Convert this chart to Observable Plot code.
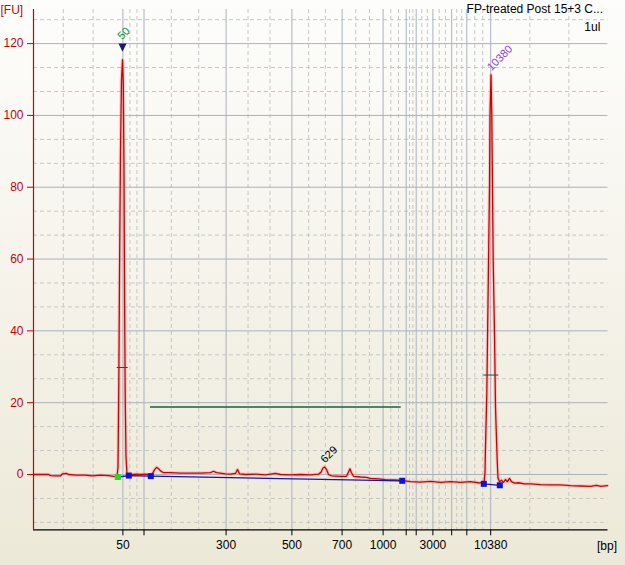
<!DOCTYPE html>
<html>
<head>
<meta charset="utf-8">
<script src="https://cdn.jsdelivr.net/npm/d3@7"></script>
<script src="https://cdn.jsdelivr.net/npm/@observablehq/plot@0.6"></script>
<style>
  html, body { margin: 0; padding: 0; }
  body { width: 625px; height: 565px; background: linear-gradient(to bottom, #fdfdfc 0%, #f6f4ec 45%, #ece9d8 100%); overflow: hidden; }
  #chart svg { display: block; }
</style>
</head>
<body>
<div id="chart"></div>
<script>
// ---- data (x = migration time, s; y = fluorescence, FU) ----
const ladderBp   = [50, 100, 300, 500, 700, 1000, 1500, 2000, 3000, 5000, 7000, 10380];
const ladderTime = [37.88, 42.10, 58.52, 71.68, 81.72, 89.92, 94.54, 96.54, 99.88, 103.64, 106.66, 111.44];
const tickLabels = ["50", "", "300", "500", "700", "1000", "", "", "3000", "", "", "10380"];
const yTicks = [0, 20, 40, 60, 80, 100, 120];
const xDomain = [20, 134.9];
const yDomain = [-15.4, 129.5];

const trace = [
  [20.0, 0.0], [21.4, 0.0], [23.0, 0.0], [23.4, -0.3], [24.4, -0.4], [25.4, -0.4], [25.8, 0.2], [26.6, 0.3],
  [27.0, 0.0], [28.4, -0.2], [30.4, -0.2], [31.8, -0.4], [33.4, -0.2], [35.0, -0.3], [36.0, -0.5], [36.7, -0.6],
  [36.9, 2], [37.06, 25], [37.2, 55], [37.4, 90], [37.6, 110], [37.8, 115.5], [37.96, 109], [38.1, 85],
  [38.22, 48], [38.34, 22], [38.5, 5], [38.7, 0],
  [39.0, -0.1], [40.4, 0.1], [41.4, 0.0], [42.4, 0.1], [43.4, -0.1], [43.8, 0.3], [44.2, 1.3], [44.6, 2.0],
  [45.0, 1.6], [45.4, 1.0], [46.0, 0.5], [47.4, 0.5], [49.4, 0.4], [51.4, 0.4], [53.4, 0.4], [55.4, 0.5],
  [56.0, 0.9], [56.6, 0.5], [58.4, 0.2], [59.4, 0.1], [60.4, 0.3], [60.8, 1.4], [61.2, 0.2], [62.4, 0.0],
  [64.4, 0.1], [66.4, -0.1], [68.4, 0.3], [69.4, 0.0], [71.4, -0.1], [73.4, 0.0], [75.4, -0.1], [77.0, 0.1],
  [77.5, 0.6], [77.9, 1.8], [78.2, 2.1], [78.6, 1.4], [79.0, 0.0], [79.6, -0.4], [81.4, -0.5], [82.6, -0.5],
  [83.0, 0.7], [83.3, 1.6], [83.6, 0.5], [84.0, -0.5], [85.4, -0.7], [86.6, -0.8], [87.4, -1.1], [89.0, -1.2],
  [90.4, -1.4], [92.4, -1.5], [93.8, -1.7], [95.4, -2.0], [97.4, -2.1], [99.4, -1.9], [101.4, -2.2], [103.4, -2.0],
  [105.4, -2.2], [107.4, -2.0], [109.0, -2.3], [110.1, -2.4],
  [110.3, 0.5], [110.4, 7.6], [110.66, 22.5], [110.86, 43.8], [111.2, 80], [111.3, 100], [111.5, 111.3],
  [111.66, 100], [111.94, 59.6], [112.2, 39.2], [112.4, 18.7], [112.74, 3.9], [112.9, -1.0],
  [113.2, -2.0], [113.6, -1.6], [114.0, -2.2], [114.4, -1.4], [114.8, -2.0], [115.2, -1.1], [115.6, -2.0],
  [116.2, -2.4], [117.0, -2.3], [118.2, -2.6], [119.4, -2.6], [121.4, -2.8], [123.4, -2.9], [125.4, -2.9],
  [127.4, -3.1], [129.4, -3.2], [131.4, -3.3], [132.6, -3.0], [133.4, -3.3], [134.8, -3.1]
];

const baselineA = [[36.86, -0.7], [39.06, -0.3], [43.46, -0.45], [93.74, -1.75]];
const baselineB = [[110.06, -2.6], [113.26, -3.0]];
const startMarker = [[36.86, -0.7]];
const baselineMarkers = [[39.06, -0.3], [43.46, -0.45], [93.74, -1.75], [110.06, -2.6], [113.26, -3.0]];

const regionStart = [43.4], regionEnd = [93.54], regionLevel = [18.8];
const halfTicks = [[36.74, 38.94, 29.8], [110.06, 113.06, 27.7]];

const markerPeak = [[37.8, 115.5]];
const peakLabels = ["629", "10380"];
const peakTime = [78.2, 111.5];
const peakFU = [2.1, 111.3];
const peakColors = ["#000000", "#8a3fd6"];

const title = "FP-treated Post 15+3 C...";
const subtitle = "1ul";

// ---- grid positions derived from scale ----
const edges = [xDomain[0], ...ladderTime, xDomain[1]];
const minorX = [];
for (let i = 0; i < edges.length - 1; i++) {
  const a = edges[i], b = edges[i + 1];
  minorX.push(a + (b - a) / 3, a + 2 * (b - a) / 3);
}
const minorY = [];
for (let k = -2; k * 20 / 3 <= yDomain[1]; k++) { if (k % 3 !== 0) minorY.push(k * 20 / 3); }

const labelMap = new Map(ladderTime.map((t, i) => [t, tickLabels[i]]));

const downTriangle = {
  draw(ctx, size) {
    const r = Math.sqrt(size / Math.PI);
    ctx.moveTo(-1.35 * r, -1.2 * r);
    ctx.lineTo(1.35 * r, -1.2 * r);
    ctx.lineTo(0, 1.5 * r);
    ctx.closePath();
  }
};

const FONT = "'Liberation Sans', Arial, sans-serif";
const RED = "#cc0000";

const chart = Plot.plot({
  width: 625,
  height: 565,
  marginLeft: 33,
  marginRight: 17.5,
  marginTop: 9,
  marginBottom: 35.7,
  x: {domain: xDomain},
  y: {domain: yDomain},
  style: {background: "transparent", fontFamily: FONT, fontSize: "12px", overflow: "visible"},
  marks: [
    // grid
    Plot.ruleY(minorY, {stroke: "#c6c6c6", strokeDasharray: "4,3"}),
    Plot.ruleX(minorX, {stroke: "#c6c6c6", strokeDasharray: "4,3"}),
    Plot.ruleY(yTicks, {stroke: "#aab2be"}),
    Plot.ruleX(ladderTime, {stroke: "#aab2be"}),
    // region bar
    Plot.ruleY(regionLevel, {x1: regionStart, x2: regionEnd, y: regionLevel, stroke: "#1d5f3c", strokeWidth: 1.4}),
    // trace
    Plot.line(trace, {x: d => d[0], y: d => d[1], stroke: "#f29a9a", strokeWidth: 3.5, strokeOpacity: 0.45}),
    Plot.line(trace, {x: d => d[0], y: d => d[1], stroke: "#d00000", strokeWidth: 1.3}),
    // baselines
    Plot.line(baselineA, {x: d => d[0], y: d => d[1], stroke: "#1414b4", strokeWidth: 1.3}),
    Plot.line(baselineB, {x: d => d[0], y: d => d[1], stroke: "#1414b4", strokeWidth: 1.3}),
    Plot.dot(startMarker, {x: d => d[0], y: d => d[1], symbol: "square", r: 3.4, fill: "#22dd22"}),
    Plot.dot(baselineMarkers, {x: d => d[0], y: d => d[1], symbol: "square", r: 3.4, fill: "#1010d8"}),
    // half-height ticks
    Plot.ruleY(halfTicks, {x1: d => d[0], x2: d => d[1], y: d => d[2], stroke: "#244e34", strokeWidth: 1}),
    // ladder marker + labels
    Plot.dot(markerPeak, {x: d => d[0], y: d => d[1], symbol: downTriangle, r: 3, fill: "#1c1c6c", dy: -12.6}),
    Plot.text(markerPeak, {x: d => d[0], y: d => d[1], text: ["50"], fill: "#1e8a1e", rotate: -45, textAnchor: "start", dx: -3, dy: -22, fontSize: 11}),
    Plot.text(peakLabels, {x: peakTime, y: peakFU, text: peakLabels, fill: peakColors, rotate: -45, textAnchor: "start", dx: -2, dy: -6, fontSize: 11}),
    // title texts
    Plot.text([title], {frameAnchor: "top-right", text: d => d, textAnchor: "end", lineAnchor: "bottom", dx: -5, dy: 3, fill: "#000", fontSize: 12}),
    Plot.text([subtitle], {frameAnchor: "top-right", text: d => d, textAnchor: "end", lineAnchor: "bottom", dx: -7.7, dy: 21, fill: "#000", fontSize: 12}),
    Plot.text(["[FU]"], {frameAnchor: "top-left", text: d => d, textAnchor: "start", lineAnchor: "bottom", dx: -33, dy: 4, fill: RED, fontSize: 12}),
    Plot.text(["[bp]"], {frameAnchor: "bottom-right", text: d => d, textAnchor: "start", lineAnchor: "bottom", dx: -11, dy: 19.7, fill: "#000", fontSize: 12}),
    // axes
    Plot.axisY({ticks: yTicks, tickSize: 6, tickPadding: 4, color: RED, fontSize: 12, label: null}),
    Plot.axisX({ticks: ladderTime, tickFormat: d => labelMap.get(d), tickSize: 6, tickPadding: 4.5, color: "#000", fontSize: 12, label: null}),
    Plot.ruleX([xDomain[0]], {stroke: RED, strokeWidth: 1.2}),
    Plot.ruleY([yDomain[0]], {stroke: "#000", strokeWidth: 1.2})
  ]
});
document.getElementById("chart").appendChild(chart);
</script>
</body>
</html>
